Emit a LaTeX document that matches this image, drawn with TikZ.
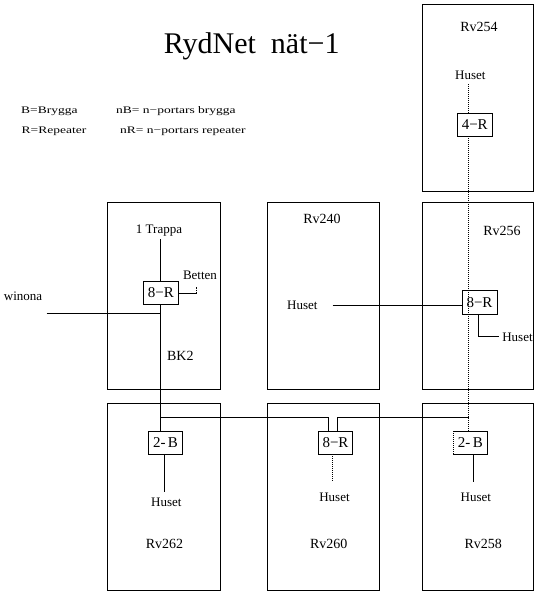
\documentclass[tikz,border=0pt]{standalone}
\usepackage{fontspec}
\setmainfont{Liberation Serif}
\usepackage{graphicx}
\begin{document}
\begin{tikzpicture}[x=1pt,y=-1pt,
  house/.style={draw,line width=1pt,inner sep=0pt,outer sep=0pt},
  dev/.style={draw,line width=1pt,minimum width=35pt,minimum height=23pt,inner sep=0pt,outer sep=0pt,font=\fontsize{15}{15}\selectfont},
  lbl/.style={inner sep=0pt,anchor=base,font=\fontsize{13}{13}\selectfont},
  rvlbl/.style={inner sep=0pt,anchor=base,font=\fontsize{14}{14}\selectfont},
  leg/.style={inner sep=0pt,anchor=base west,font=\fontsize{10}{10}\selectfont},
  wire/.style={line width=1pt},
  dots/.style={line width=1pt,dash pattern=on 1pt off 1pt}]
\useasboundingbox[fill=white] (0,0) rectangle (544,600);

% houses
\node[house,minimum width=111pt,minimum height=186.5pt] (h254) at (478,97.75) {};
\node[house,minimum width=113pt,minimum height=187pt] (hBK2) at (164,295.5) {};
\node[house,minimum width=112pt,minimum height=187pt] (h240) at (323.5,295.5) {};
\node[house,minimum width=111pt,minimum height=187pt] (h256) at (478,295.5) {};
\node[house,minimum width=113pt,minimum height=187pt] (h262) at (164,496.5) {};
\node[house,minimum width=112pt,minimum height=187pt] (h260) at (323.5,496.5) {};
\node[house,minimum width=111pt,minimum height=187pt] (h258) at (478,496.5) {};

% title and legend
\node[inner sep=0pt,anchor=base,font=\fontsize{30}{30}\selectfont] (title) at (251.7,53.3) {RydNet\ \ nät−1};
\node[leg] (lgB) at (21,113.5) {\scalebox{1.35}[1]{B=Brygga}};
\node[leg] (lgnB) at (116,113.5) {\scalebox{1.35}[1]{nB= n−portars brygga}};
\node[leg] (lgR) at (21.5,133.5) {\scalebox{1.35}[1]{R=Repeater}};
\node[leg] (lgnR) at (120,133.5) {\scalebox{1.35}[1]{nR= n−portars repeater}};

% devices
\node[dev,minimum width=35.5pt] (r4) at (474.75,124.5) {4−R};
\node[dev] (rBK2) at (160.8,293) {8−R};
\node[dev,minimum height=24pt] (r256) at (479.5,302.2) {8−R};
\node[dev,minimum width=34.4pt] (b262) at (165.5,442.7) {2-\,B};
\node[dev,minimum width=34.4pt] (r260) at (335.5,442.7) {8−R};
\node[dev,minimum width=34pt] (b258) at (470.3,442.7) {2-\,B};
\draw[white,line width=1.4pt] (b258.north west) -- (b258.south west);
\draw[dots] (b258.north west) -- (b258.south west);

% labels
\node[rvlbl] (t254) at (479,31.7) {Rv254};
\node[lbl] (u254) at (470.3,79.3) {Huset};
\node[lbl] (trappa) at (159,233) {1 Trappa};
\node[lbl] (betten) at (200,279.3) {Betten};
\node[lbl] (winona) at (23,300) {winona};
\node[rvlbl] (tBK2) at (180.3,360) {BK2};
\node[rvlbl] (t240) at (322,223) {Rv240};
\node[lbl] (u240) at (302.3,309) {Huset};
\node[rvlbl] (t256) at (502,235) {Rv256};
\node[lbl] (u256) at (517.5,341) {Huset};
\node[lbl] (u262) at (166.3,506) {Huset};
\node[rvlbl] (t262) at (164.5,548) {Rv262};
\node[lbl] (u260) at (334.5,501) {Huset};
\node[rvlbl] (t260) at (328.8,548) {Rv260};
\node[lbl] (u258) at (475.8,501) {Huset};
\node[rvlbl] (t258) at (483.3,548) {Rv258};

% wires
\coordinate (tr) at (160,239);
\draw[wire] (tr) -- (tr |- rBK2.north);
\draw[wire] (tr |- rBK2.south) -- (tr |- b262.north);
\coordinate (win) at (46.7,313.5);
\draw[wire] (win) -- (tr |- win);
\coordinate (bt) at (196.7,293.3);
\coordinate (btt) at (196.7,286.7);
\draw[wire] (rBK2.east |- bt) -- (bt);
\draw[dots] (bt) -- (btt);

\coordinate (j1) at (160,417.7);
\coordinate (a1) at (328.3,417.7);
\coordinate (a2) at (337.3,417.7);
\coordinate (j2) at (468.5,417.7);
\draw[wire] (j1) -- (a1) -- (a1 |- r260.north);
\draw[wire] (a2 |- r260.north) -- (a2) -- (j2);

\coordinate (hu4) at (468.5,84);
\draw[dots] (hu4) -- (hu4 |- r4.north);
\draw[dots] (hu4 |- r4.south) -- (hu4 |- b258.north);

\coordinate (h240w) at (332.7,305.3);
\draw[wire] (h240w) -- (r256.west |- h240w);
\coordinate (h256c) at (478.7,336.7);
\coordinate (h256e) at (498.7,336.7);
\draw[wire] (h256c |- r256.south) -- (h256c) -- (h256e);

\coordinate (c262) at (164.3,492.3);
\draw[wire] (c262 |- b262.south) -- (c262);
\coordinate (c260) at (332.3,481.7);
\draw[dots] (c260 |- r260.south) -- (c260);
\coordinate (c258) at (473.3,482.3);
\draw[wire] (c258 |- b258.south) -- (c258);
\end{tikzpicture}
\end{document}
